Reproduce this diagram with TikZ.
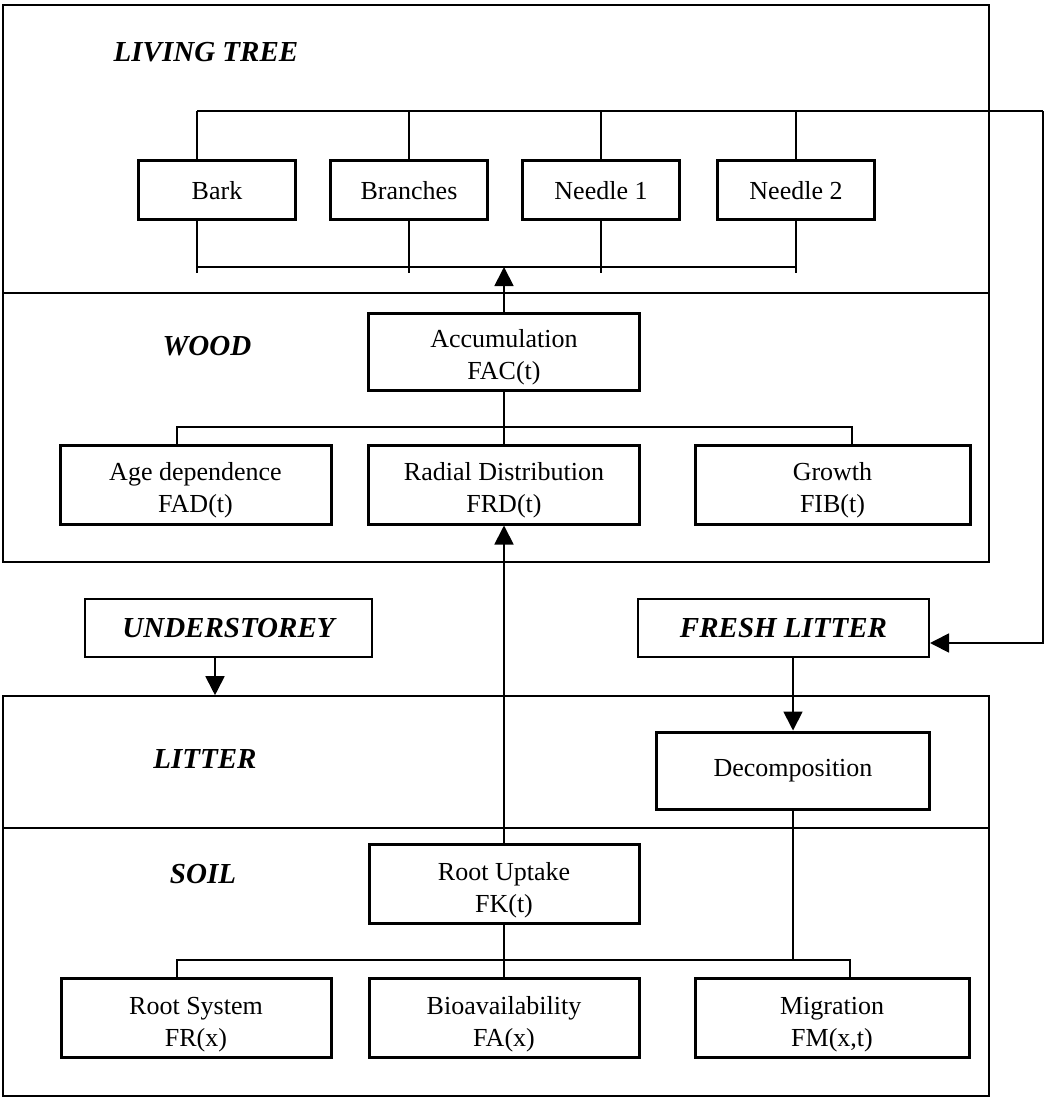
\documentclass[tikz,border=0pt]{standalone}
\usepackage{fontspec}
\setmainfont{Liberation Serif}
\usetikzlibrary{arrows.meta,calc}

\begin{document}
\begin{tikzpicture}[x=1pt,y=-1pt,
  zone/.style={draw, line width=1.6pt, inner sep=0pt},
  fbox/.style={draw, line width=3pt, inner sep=0pt, fill=white},
  pbox/.style={draw, line width=2pt, inner sep=0pt, fill=white},
  body/.style={font=\fontsize{26}{32}\selectfont, align=center, inner sep=0pt},
  tag/.style={font=\fontsize{29}{34}\selectfont\bfseries\itshape, inner sep=0pt},
  link/.style={line width=1.8pt},
  flow/.style={link, -{Triangle[width=19pt,length=19pt]}},
]
\useasboundingbox (0,0) rectangle (1045,1099);

% compartments
\node[zone, minimum width=986pt, minimum height=288pt] (living) at (496,149) {};
\node[zone, minimum width=986pt, minimum height=269pt] (wood) at (496,427.5) {};
\node[zone, minimum width=986pt, minimum height=132pt] (litter) at (496,762) {};
\node[zone, minimum width=986pt, minimum height=268pt] (soil) at (496,962) {};

% compartment titles
\node[tag, anchor=base] (t-living) at (206,62) {LIVING TREE};
\node[tag, anchor=base] (t-wood) at (207,355) {WOOD};
\node[tag, anchor=base] (t-litter) at (205,768) {LITTER};
\node[tag, anchor=base] (t-soil) at (203,883) {SOIL};

% living tree parts
\node[fbox, minimum width=157pt, minimum height=59pt] (bark) at (217,190.5) {};
\node[fbox, minimum width=157pt, minimum height=59pt] (branches) at (409,190.5) {};
\node[fbox, minimum width=157pt, minimum height=59pt] (needle1) at (601,190.5) {};
\node[fbox, minimum width=157pt, minimum height=59pt] (needle2) at (796,190.5) {};
\node[body] (bark-t) at (bark) {Bark};
\node[body] (branches-t) at (branches) {Branches};
\node[body] (needle1-t) at (needle1) {Needle 1};
\node[body] (needle2-t) at (needle2) {Needle 2};

% wood functions
\node[fbox, minimum width=271pt, minimum height=77pt] (acc) at (504,351.5) {};
\node[fbox, minimum width=271pt, minimum height=79pt] (age) at (195.5,484.5) {};
\node[fbox, minimum width=271pt, minimum height=79pt] (radial) at (504,484.5) {};
\node[fbox, minimum width=275pt, minimum height=79pt] (growth) at (832.5,484.5) {};
\node[body] (acc-t) at ([yshift=-6pt]acc.center) {Accumulation\\FAC(t)};
\node[body] (age-t) at ([yshift=-6pt]age.center) {Age dependence\\FAD(t)};
\node[body] (radial-t) at ([yshift=-6pt]radial.center) {Radial Distribution\\FRD(t)};
\node[body] (growth-t) at ([yshift=-6pt]growth.center) {Growth\\FIB(t)};

% inputs to the litter
\node[pbox, minimum width=287pt, minimum height=58pt] (under) at (228.5,628) {};
\node[pbox, minimum width=291pt, minimum height=58pt] (fresh) at (783.5,628) {};
\node[tag] (under-t) at (under) {UNDERSTOREY};
\node[tag] (fresh-t) at (fresh) {FRESH LITTER};

% litter and soil functions
\node[fbox, minimum width=273pt, minimum height=77pt] (decomp) at (793,770.5) {};
\node[body] (decomp-t) at (decomp) {Decomposition};
\node[fbox, minimum width=270pt, minimum height=79pt] (uptake) at (504,883.5) {};
\node[fbox, minimum width=270pt, minimum height=79pt] (rootsys) at (196,1017.5) {};
\node[fbox, minimum width=270pt, minimum height=79pt] (bioav) at (504,1017.5) {};
\node[fbox, minimum width=274pt, minimum height=79pt] (migr) at (832,1017.5) {};
\node[body] (uptake-t) at ([yshift=-7pt]uptake.center) {Root Uptake\\FK(t)};
\node[body] (rootsys-t) at ([yshift=-7pt]rootsys.center) {Root System\\FR(x)};
\node[body] (bioav-t) at ([yshift=-7pt]bioav.center) {Bioavailability\\FA(x)};
\node[body] (migr-t) at ([yshift=-7pt]migr.center) {Migration\\FM(x,t)};

% bus lines
\coordinate (topL) at (197,111);
\coordinate (topR) at (1043,111);
\coordinate (back) at (1043,643);
\coordinate (botL) at (197,267);
\coordinate (botR) at (796,267);
\coordinate (wbL) at (177,427);
\coordinate (wbR) at (852,427);
\coordinate (sbL) at (177,960);
\coordinate (sbR) at (850,960);

% living tree: parts above and below
\draw[link] (topL) -- (topR);
\draw[link] (topL) -- (topL |- bark.north);
\draw[link] (branches.north |- topL) -- (branches.north);
\draw[link] (needle1.north |- topL) -- (needle1.north);
\draw[link] (needle2.north |- topL) -- (needle2.north);
\draw[link] (botL) -- (botR);
\draw[link] (botL |- bark.south) -- ([yshift=-6pt]botL);
\draw[link] (branches.south) -- ([yshift=-6pt]branches.south |- botL);
\draw[link] (needle1.south) -- ([yshift=-6pt]needle1.south |- botL);
\draw[link] (needle2.south) -- ([yshift=-6pt]needle2.south |- botL);
\draw[flow] (acc.north) -- (acc.north |- botL);

% litterfall return path
\draw[flow] (topR) -- (back) -- (fresh.east |- back);

% wood
\draw[link] (acc.south) -- (radial.north);
\draw[link] (wbL |- age.north) -- (wbL) -- (wbR) -- (wbR |- growth.north);
\draw[flow] (uptake.north) -- (radial.south);

% litter inputs
\draw[flow] ([xshift=-13.5pt]under.south) -- ([xshift=-13.5pt]under.south |- litter.north);
\draw[flow] (decomp.north |- fresh.south) -- (decomp.north);

% soil
\draw[link] (decomp.south) -- (decomp.south |- sbL);
\draw[link] (uptake.south) -- (bioav.north);
\draw[link] (sbL |- rootsys.north) -- (sbL) -- (sbR) -- (sbR |- migr.north);
\end{tikzpicture}
\end{document}
